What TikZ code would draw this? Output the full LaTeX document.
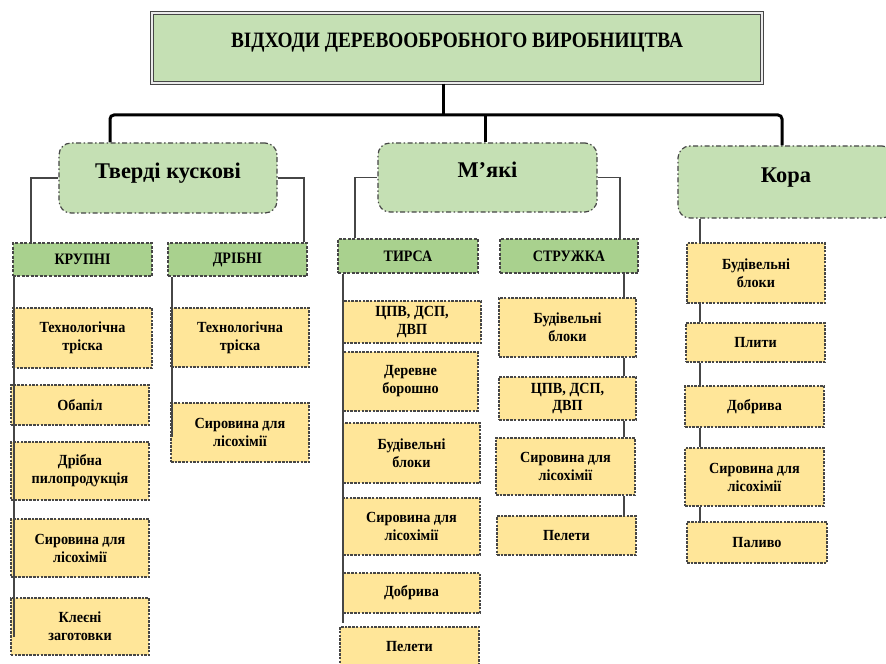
\documentclass[tikz,border=0pt]{standalone}
\usepackage{fontspec}
\setmainfont{Liberation Serif}
\newfontfamily\condA{Liberation Serif}[FakeStretch=0.88]
\newfontfamily\condB{Liberation Serif}[FakeStretch=0.92]
\usetikzlibrary{calc}
\definecolor{coltitle}{RGB}{197,224,180}
\definecolor{colcat}{RGB}{197,224,180}
\definecolor{colsub}{RGB}{169,209,142}
\definecolor{colleaf}{RGB}{255,230,153}
\definecolor{coledge}{RGB}{70,70,70}
\begin{document}
\begin{tikzpicture}[x=1bp,y=-1bp,
  titlebox/.style={draw=coledge, double=white!92!black, double distance=1.6bp, line width=1.1bp,
    fill=coltitle, minimum width=610bp, minimum height=70bp, inner sep=0pt,
    font=\condA\bfseries\fontsize{22}{26}\selectfont, text height=35bp, text depth=35bp},
  catbox/.style={draw=coledge, dash pattern=on 5bp off 2.5bp on 1.5bp off 2.5bp, line width=1.2bp,
    fill=colcat, rounded corners=12bp, inner sep=0pt,
    font=\bfseries\fontsize{22.5}{26}\selectfont, text height=10bp, text depth=10bp},
  subbox/.style={draw=coledge, dash pattern=on 3bp off 1.5bp, line width=1.2bp,
    fill=colsub, inner sep=0pt, font=\condA\bfseries\fontsize{16}{19}\selectfont},
  leafbox/.style={draw=coledge, dash pattern=on 2.5bp off 1.2bp, line width=1.2bp,
    fill=colleaf, inner sep=0pt, align=center, font=\condB\bfseries\fontsize{15.5}{18}\selectfont},
  conn/.style={draw=coledge, line width=1.4bp},
  topline/.style={draw=black, line width=3bp}
]
\useasboundingbox (0,0) rectangle (886,664);
\clip (0,0) rectangle (886,664);
\fill[white] (0,0) rectangle (886,664);

% title
\node[titlebox] (title) at (457,48) {ВІДХОДИ ДЕРЕВООБРОБНОГО ВИРОБНИЦТВА};

% level 2
\node[catbox, minimum width=218bp, minimum height=70bp] (tk) at (168,178) {Тверді кускові};
\node[catbox, minimum width=219bp, minimum height=69bp] (myaki) at (487.5,177.5) {М’які};
\node[catbox, minimum width=216bp, minimum height=72bp] (kora) at (786,182) {Кора};

% level 3
\node[subbox, minimum width=139bp, minimum height=33bp] (krup) at (82.5,259.5) {КРУПНІ};
\node[subbox, minimum width=139bp, minimum height=33bp] (dribn) at (237.5,259.5) {ДРІБНІ};
\node[subbox, minimum width=140bp, minimum height=34bp] (tyrsa) at (408,256) {ТИРСА};
\node[subbox, minimum width=138bp, minimum height=34bp] (struzh) at (569,256) {СТРУЖКА};

% КРУПНІ column
\node[leafbox, minimum width=139bp, minimum height=60bp] (a1) at (82.5,338) {Технологічна\\тріска};
\node[leafbox, minimum width=138bp, minimum height=40bp] (a2) at (80,405) {Обапіл};
\node[leafbox, minimum width=138bp, minimum height=58bp] (a3) at (80,471) {Дрібна\\пилопродукція};
\node[leafbox, minimum width=138bp, minimum height=58bp] (a4) at (80,548) {Сировина для\\лісохімії};
\node[leafbox, minimum width=138bp, minimum height=57bp] (a5) at (80,626.5) {Клеєні\\заготовки};

% ДРІБНІ column
\node[leafbox, minimum width=138bp, minimum height=59bp] (b1) at (240,337.5) {Технологічна\\тріска};
\node[leafbox, minimum width=138bp, minimum height=59bp] (b2) at (240,432.5) {Сировина для\\лісохімії};

% ТИРСА column
\node[leafbox, minimum width=138bp, minimum height=42bp] (c1) at (412,322) {ЦПВ, ДСП,\\ДВП};
\node[leafbox, minimum width=135bp, minimum height=59bp] (c2) at (410.5,381.5) {Деревне\\борошно};
\node[leafbox, minimum width=137bp, minimum height=60bp] (c3) at (411.5,453) {Будівельні\\блоки};
\node[leafbox, minimum width=137bp, minimum height=57bp] (c4) at (411.5,526.5) {Сировина для\\лісохімії};
\node[leafbox, minimum width=137bp, minimum height=40bp] (c5) at (411.5,593) {Добрива};
\node[leafbox, minimum width=139bp, minimum height=40bp] (c6) at (409.5,647) {Пелети};

% СТРУЖКА column
\node[leafbox, minimum width=137bp, minimum height=59bp] (d1) at (567.5,327.5) {Будівельні\\блоки};
\node[leafbox, minimum width=137bp, minimum height=43bp] (d2) at (567.5,398.5) {ЦПВ, ДСП,\\ДВП};
\node[leafbox, minimum width=139bp, minimum height=57bp] (d3) at (565.5,466.5) {Сировина для\\лісохімії};
\node[leafbox, minimum width=139bp, minimum height=39bp] (d4) at (566.5,535.5) {Пелети};

% Кора column
\node[leafbox, minimum width=138bp, minimum height=60bp] (e1) at (756,273) {Будівельні\\блоки};
\node[leafbox, minimum width=139bp, minimum height=39bp] (e2) at (755.5,342.5) {Плити};
\node[leafbox, minimum width=139bp, minimum height=41bp] (e3) at (754.5,406.5) {Добрива};
\node[leafbox, minimum width=139bp, minimum height=58bp] (e4) at (754.5,477) {Сировина для\\лісохімії};
\node[leafbox, minimum width=140bp, minimum height=41bp] (e5) at (757,542.5) {Паливо};

% top connectors
\coordinate (tb) at (443,115);
\coordinate (mb) at (485,115);
\coordinate (hl) at (110,115);
\coordinate (hr) at (782,115);
\draw[topline] (title.south -| tb) -- (tb);
\draw[topline, rounded corners=4bp] (tk.north -| hl) -- (hl) -- (hr) -- (kora.north -| hr);
\draw[topline] (mb) -- (myaki.north -| mb);

% side connectors
\coordinate (xk) at (31,0);
\coordinate (xd) at (304,0);
\coordinate (xt) at (355,0);
\coordinate (xs) at (620,0);
\draw[conn] (tk.west) -| (krup.north -| xk);
\draw[conn] (tk.east) -| (dribn.north -| xd);
\draw[conn] (myaki.west) -| (tyrsa.north -| xt);
\draw[conn] (myaki.east) -| (struzh.north -| xs);

% column connectors
\coordinate (c1e) at (14,637);
\coordinate (c2e) at (172,437);
\coordinate (c3e) at (343,623);
\draw[conn] (krup.south -| c1e) -- (c1e);
\draw[conn] (dribn.south -| c2e) -- (c2e);
\draw[conn] (tyrsa.south -| c3e) -- (c3e);

\coordinate (xs2) at (624,0);
\draw[conn] (struzh.south -| xs2) -- (d1.north -| xs2);
\draw[conn] (d1.south -| xs2) -- (d2.north -| xs2);
\draw[conn] (d2.south -| xs2) -- (d3.north -| xs2);
\draw[conn] (d3.south -| xs2) -- (d4.north -| xs2);

\coordinate (xk2) at (700,0);
\draw[conn] (kora.south -| xk2) -- (e1.north -| xk2);
\draw[conn] (e1.south -| xk2) -- (e2.north -| xk2);
\draw[conn] (e2.south -| xk2) -- (e3.north -| xk2);
\draw[conn] (e3.south -| xk2) -- (e4.north -| xk2);
\draw[conn] (e4.south -| xk2) -- (e5.north -| xk2);
\end{tikzpicture}
\end{document}
